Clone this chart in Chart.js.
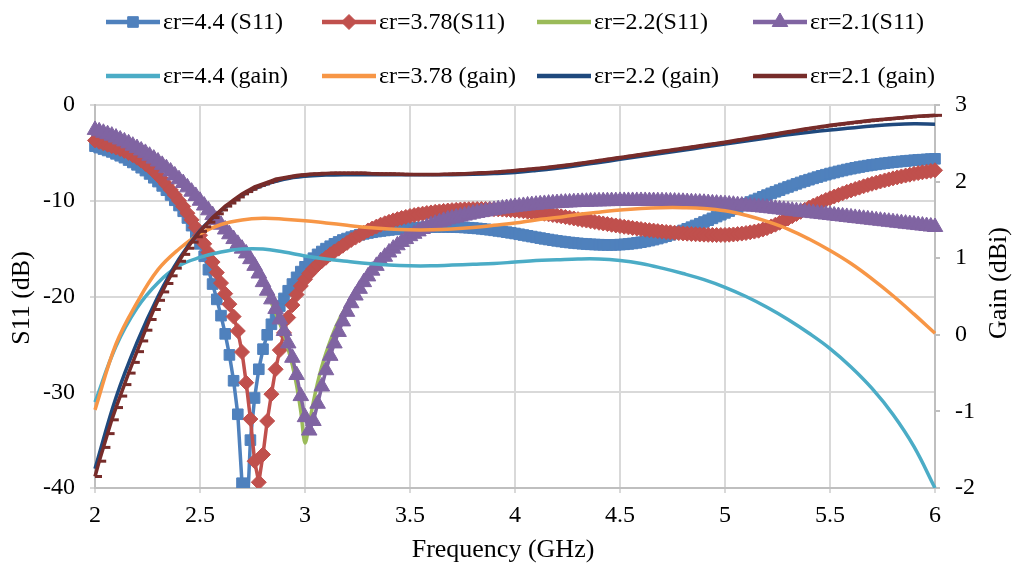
<!DOCTYPE html>
<html lang="en">
<head>
    <meta charset="UTF-8">
    <title>S11 and Gain vs Frequency</title>
    <script src="https://cdn.jsdelivr.net/npm/chart.js"></script>
    <style>
        html, body { margin: 0; padding: 0; background: #fff; }
    </style>
</head>
<body>
    <canvas id="chart" width="1012" height="565"></canvas>

    <script>
        // frequency sweep (GHz), fine grid used by the marker series
        const freqFine = [
            2.00, 2.02, 2.04, 2.06, 2.08, 2.10, 2.12, 2.14, 2.16, 2.18,
            2.20, 2.22, 2.24, 2.26, 2.28, 2.30, 2.32, 2.34, 2.36, 2.38,
            2.40, 2.42, 2.44, 2.46, 2.48, 2.50, 2.52, 2.54, 2.56, 2.58,
            2.60, 2.62, 2.64, 2.66, 2.68, 2.70, 2.72, 2.74, 2.76, 2.78,
            2.80, 2.82, 2.84, 2.86, 2.88, 2.90, 2.92, 2.94, 2.96, 2.98,
            3.00, 3.02, 3.04, 3.06, 3.08, 3.10, 3.12, 3.14, 3.16, 3.18,
            3.20, 3.22, 3.24, 3.26, 3.28, 3.30, 3.32, 3.34, 3.36, 3.38,
            3.40, 3.42, 3.44, 3.46, 3.48, 3.50, 3.52, 3.54, 3.56, 3.58,
            3.60, 3.62, 3.64, 3.66, 3.68, 3.70, 3.72, 3.74, 3.76, 3.78,
            3.80, 3.82, 3.84, 3.86, 3.88, 3.90, 3.92, 3.94, 3.96, 3.98,
            4.00, 4.02, 4.04, 4.06, 4.08, 4.10, 4.12, 4.14, 4.16, 4.18,
            4.20, 4.22, 4.24, 4.26, 4.28, 4.30, 4.32, 4.34, 4.36, 4.38,
            4.40, 4.42, 4.44, 4.46, 4.48, 4.50, 4.52, 4.54, 4.56, 4.58,
            4.60, 4.62, 4.64, 4.66, 4.68, 4.70, 4.72, 4.74, 4.76, 4.78,
            4.80, 4.82, 4.84, 4.86, 4.88, 4.90, 4.92, 4.94, 4.96, 4.98,
            5.00, 5.02, 5.04, 5.06, 5.08, 5.10, 5.12, 5.14, 5.16, 5.18,
            5.20, 5.22, 5.24, 5.26, 5.28, 5.30, 5.32, 5.34, 5.36, 5.38,
            5.40, 5.42, 5.44, 5.46, 5.48, 5.50, 5.52, 5.54, 5.56, 5.58,
            5.60, 5.62, 5.64, 5.66, 5.68, 5.70, 5.72, 5.74, 5.76, 5.78,
            5.80, 5.82, 5.84, 5.86, 5.88, 5.90, 5.92, 5.94, 5.96, 5.98,
            6.00
        ];

        // coarse grid for the smooth gain curves
        const freqCoarse = [
            2.0, 2.1, 2.2, 2.3, 2.4, 2.5, 2.6, 2.7, 2.8, 2.9,
            3.0, 3.1, 3.2, 3.3, 3.4, 3.5, 3.6, 3.7, 3.8, 3.9,
            4.0, 4.1, 4.2, 4.3, 4.4, 4.5, 4.6, 4.7, 4.8, 4.9,
            5.0, 5.1, 5.2, 5.3, 5.4, 5.5, 5.6, 5.7, 5.8, 5.9,
            6.0
        ];

        // grid for the er=2.2 S11 line (denser around its dip)
        const freqGreen = [
            2.0, 2.1, 2.2, 2.3, 2.4, 2.5, 2.6, 2.7, 2.8, 2.85,
            2.9, 2.92, 2.94, 2.96, 2.98, 3.0, 3.02, 3.04, 3.06, 3.08,
            3.1, 3.15, 3.2, 3.3, 3.4, 3.5, 3.6, 3.7, 3.8, 3.9,
            4.0, 4.2, 4.4, 4.6, 4.8, 5.0, 5.2, 5.4, 5.6, 5.8,
            6.0
        ];

        // S11 (dB)
        const s11Er44 = [
            -4.30, -4.45, -4.60, -4.75, -4.90, -5.10, -5.30, -5.50, -5.75, -6.00,
            -6.25, -6.55, -6.85, -7.20, -7.60, -8.00, -8.45, -8.90, -9.40, -9.95,
            -10.5, -11.1, -11.8, -12.6, -13.5, -14.5, -15.8, -17.2, -18.7, -20.3,
            -22.0, -23.9, -26.1, -28.8, -32.3, -39.5, -45.0, -35.0, -30.6, -27.6,
            -25.5, -24.0, -22.9, -21.9, -21.0, -20.2, -19.4, -18.7, -18.0, -17.4,
            -16.9, -16.4, -16.0, -15.6, -15.3, -15.0, -14.75, -14.5, -14.3, -14.1,
            -13.95, -13.8, -13.68, -13.56, -13.46, -13.37, -13.29, -13.22, -13.16, -13.1,
            -13.05, -13.0, -12.96, -12.92, -12.88, -12.85, -12.82, -12.8, -12.78, -12.76,
            -12.75, -12.74, -12.73, -12.73, -12.73, -12.74, -12.75, -12.77, -12.79, -12.82,
            -12.85, -12.89, -12.93, -12.98, -13.03, -13.09, -13.15, -13.21, -13.28, -13.35,
            -13.42, -13.5, -13.58, -13.66, -13.74, -13.82, -13.9, -13.98, -14.05, -14.12,
            -14.19, -14.25, -14.31, -14.36, -14.41, -14.45, -14.49, -14.52, -14.55, -14.57,
            -14.59, -14.6, -14.61, -14.61, -14.6, -14.58, -14.55, -14.51, -14.46, -14.4,
            -14.33, -14.25, -14.16, -14.06, -13.95, -13.83, -13.7, -13.56, -13.41, -13.26,
            -13.1, -12.93, -12.76, -12.58, -12.4, -12.22, -12.03, -11.84, -11.65, -11.46,
            -11.27, -11.08, -10.89, -10.7, -10.51, -10.32, -10.13, -9.95, -9.77, -9.59,
            -9.41, -9.23, -9.06, -8.89, -8.72, -8.56, -8.4, -8.24, -8.09, -7.94,
            -7.8, -7.66, -7.53, -7.4, -7.28, -7.16, -7.05, -6.94, -6.84, -6.74,
            -6.65, -6.56, -6.48, -6.4, -6.33, -6.26, -6.2, -6.14, -6.08, -6.03,
            -5.98, -5.93, -5.89, -5.85, -5.81, -5.77, -5.74, -5.71, -5.68, -5.65,
            -5.62
        ];
        const s11Er378 = [
            -3.7, -3.85, -4.0, -4.15, -4.3, -4.45, -4.6, -4.8, -5.0, -5.25,
            -5.5, -5.8, -6.15, -6.5, -6.9, -7.35, -7.8, -8.3, -8.85, -9.4,
            -10.0, -10.6, -11.3, -12.0, -12.8, -13.6, -14.5, -15.4, -16.4, -17.5,
            -18.6, -19.7, -20.8, -22.1, -23.6, -25.8, -29.0, -32.8, -37.2, -39.4,
            -36.5, -33.0, -30.2, -27.6, -25.6, -23.8, -22.2, -20.9, -19.8, -18.9,
            -18.2, -17.6, -17.1, -16.7, -16.3, -15.95, -15.6, -15.3, -15.0, -14.7,
            -14.4, -14.1, -13.85, -13.6, -13.35, -13.1, -12.9, -12.7, -12.5, -12.35,
            -12.2, -12.05, -11.92, -11.8, -11.69, -11.59, -11.5, -11.42, -11.35, -11.28,
            -11.22, -11.16, -11.11, -11.06, -11.02, -10.98, -10.95, -10.92, -10.9, -10.88,
            -10.87, -10.86, -10.86, -10.86, -10.87, -10.88, -10.9, -10.92, -10.95, -10.98,
            -11.01, -11.05, -11.09, -11.14, -11.19, -11.24, -11.3, -11.36, -11.42, -11.49,
            -11.56, -11.63, -11.7, -11.77, -11.85, -11.92, -12.0, -12.07, -12.15, -12.22,
            -12.3, -12.37, -12.44, -12.51, -12.58, -12.65, -12.72, -12.78, -12.84, -12.9,
            -12.96, -13.02, -13.07, -13.12, -13.17, -13.22, -13.26, -13.3, -13.34, -13.38,
            -13.41, -13.44, -13.47, -13.5, -13.52, -13.54, -13.56, -13.57, -13.58, -13.58,
            -13.57, -13.55, -13.52, -13.48, -13.43, -13.37, -13.3, -13.22, -13.13, -13.01,
            -12.86, -12.68, -12.5, -12.3, -12.08, -11.85, -11.62, -11.39, -11.16, -10.94,
            -10.72, -10.51, -10.31, -10.11, -9.92, -9.74, -9.56, -9.39, -9.23, -9.07,
            -8.92, -8.77, -8.63, -8.49, -8.36, -8.23, -8.11, -7.99, -7.88, -7.77,
            -7.66, -7.56, -7.46, -7.37, -7.28, -7.19, -7.11, -7.03, -6.96, -6.89,
            -6.82
        ];
        const s11Er22 = [
            -2.6, -3.4, -4.5, -5.9, -7.75, -10.0, -12.5, -15.0, -18.5, -21.2,
            -24.0, -25.5, -27.2, -29.3, -32.0, -35.3, -33.3, -31.0, -29.0, -27.3,
            -25.9, -23.0, -20.9, -17.7, -15.3, -13.7, -12.55, -11.85, -11.35, -10.96,
            -10.64, -10.24, -10.06, -10.02, -10.11, -10.36, -10.74, -11.24, -11.74, -12.24,
            -12.74
        ];
        const s11Er21 = [
            -2.6, -2.75, -2.9, -3.05, -3.2, -3.4, -3.6, -3.8, -4.0, -4.25,
            -4.5, -4.75, -5.0, -5.3, -5.6, -5.9, -6.25, -6.6, -6.95, -7.35,
            -7.75, -8.15, -8.6, -9.05, -9.5, -10.0, -10.5, -11.0, -11.5, -12.0,
            -12.5, -13.0, -13.5, -14.0, -14.5, -15.0, -15.5, -16.1, -16.8, -17.6,
            -18.5, -19.4, -20.3, -21.3, -22.4, -23.6, -24.9, -26.4, -28.2, -30.4,
            -32.6, -34.0, -33.0, -31.2, -29.4, -27.7, -26.2, -24.9, -23.7, -22.6,
            -21.6, -20.7, -19.9, -19.2, -18.5, -17.9, -17.3, -16.8, -16.3, -15.85,
            -15.4, -15.0, -14.65, -14.3, -14.0, -13.7, -13.45, -13.2, -12.95, -12.75,
            -12.55, -12.4, -12.25, -12.1, -11.95, -11.85, -11.75, -11.65, -11.55, -11.45,
            -11.35, -11.27, -11.19, -11.11, -11.03, -10.96, -10.89, -10.82, -10.76, -10.7,
            -10.64, -10.59, -10.54, -10.49, -10.45, -10.41, -10.37, -10.33, -10.3, -10.27,
            -10.24, -10.21, -10.19, -10.17, -10.15, -10.13, -10.11, -10.1, -10.08, -10.07,
            -10.06, -10.05, -10.04, -10.03, -10.03, -10.02, -10.02, -10.02, -10.02, -10.02,
            -10.02, -10.02, -10.03, -10.03, -10.04, -10.05, -10.06, -10.07, -10.08, -10.1,
            -10.11, -10.13, -10.15, -10.17, -10.19, -10.21, -10.24, -10.27, -10.3, -10.33,
            -10.36, -10.39, -10.42, -10.46, -10.5, -10.54, -10.58, -10.62, -10.66, -10.7,
            -10.74, -10.79, -10.84, -10.89, -10.94, -10.99, -11.04, -11.09, -11.14, -11.19,
            -11.24, -11.29, -11.34, -11.39, -11.44, -11.49, -11.54, -11.59, -11.64, -11.69,
            -11.74, -11.79, -11.84, -11.89, -11.94, -11.99, -12.04, -12.09, -12.14, -12.19,
            -12.24, -12.29, -12.34, -12.39, -12.44, -12.49, -12.54, -12.59, -12.64, -12.69,
            -12.74
        ];

        // Gain (dBi)
        const gainEr44 = [
            -0.88, -0.15, 0.35, 0.68, 0.9, 1.01, 1.08, 1.12, 1.12, 1.08,
            1.03, 0.99, 0.96, 0.93, 0.91, 0.9, 0.9, 0.91, 0.92, 0.93,
            0.95, 0.97, 0.98, 0.99, 0.99, 0.97, 0.93, 0.87, 0.8, 0.72,
            0.62, 0.5, 0.36, 0.2, 0.02, -0.18, -0.42, -0.7, -1.04, -1.46,
            -2.0
        ];
        const gainEr378 = [
            -0.98, -0.12, 0.42, 0.85, 1.12, 1.32, 1.44, 1.5, 1.52, 1.51,
            1.49, 1.46, 1.43, 1.4, 1.38, 1.37, 1.37, 1.38, 1.4, 1.43,
            1.46, 1.5, 1.53, 1.57, 1.6, 1.63, 1.65, 1.66, 1.66, 1.65,
            1.62, 1.56, 1.48, 1.38, 1.25, 1.1, 0.93, 0.73, 0.51, 0.27,
            0.02
        ];
        const gainEr22 = [
            -1.75, -0.82, -0.1, 0.5, 0.99, 1.36, 1.62, 1.82, 1.95, 2.03,
            2.07, 2.085, 2.09, 2.09, 2.09, 2.09, 2.09, 2.09, 2.095, 2.105,
            2.12, 2.145, 2.175, 2.21, 2.25, 2.29, 2.33, 2.37, 2.41, 2.45,
            2.49, 2.53, 2.57, 2.61, 2.645, 2.675, 2.7, 2.725, 2.745, 2.755,
            2.75
        ];
        const gainEr21 = [
            -1.85, -1.65, -1.47, -1.29, -1.11, -0.95, -0.8, -0.65, -0.5, -0.36,
            -0.22, -0.08, 0.06, 0.2, 0.33, 0.45, 0.56, 0.67, 0.77, 0.87,
            0.96, 1.05, 1.13, 1.21, 1.28, 1.35, 1.41, 1.47, 1.53, 1.58,
            1.63, 1.68, 1.72, 1.76, 1.8, 1.84, 1.87, 1.9, 1.93, 1.95,
            1.97, 1.99, 2.01, 2.03, 2.04, 2.05, 2.06, 2.07, 2.08, 2.085,
            2.09, 2.095, 2.1, 2.1, 2.105, 2.105, 2.11, 2.11, 2.11, 2.11,
            2.11, 2.11, 2.11, 2.11, 2.108, 2.106, 2.104, 2.102, 2.1, 2.1,
            2.1, 2.098, 2.096, 2.095, 2.094, 2.093, 2.092, 2.092, 2.092, 2.092,
            2.092, 2.093, 2.094, 2.095, 2.096, 2.098, 2.1, 2.102, 2.104, 2.106,
            2.108, 2.111, 2.114, 2.117, 2.12, 2.123, 2.127, 2.131, 2.135, 2.14,
            2.145, 2.15, 2.155, 2.16, 2.165, 2.17, 2.176, 2.182, 2.188, 2.194,
            2.2, 2.207, 2.214, 2.221, 2.228, 2.235, 2.243, 2.251, 2.259, 2.267,
            2.275, 2.283, 2.291, 2.299, 2.307, 2.315, 2.323, 2.331, 2.339, 2.347,
            2.355, 2.363, 2.371, 2.379, 2.387, 2.395, 2.403, 2.411, 2.419, 2.427,
            2.435, 2.443, 2.451, 2.459, 2.467, 2.475, 2.483, 2.491, 2.499, 2.507,
            2.515, 2.524, 2.533, 2.542, 2.551, 2.56, 2.569, 2.578, 2.587, 2.596,
            2.605, 2.614, 2.623, 2.632, 2.641, 2.65, 2.659, 2.668, 2.677, 2.686,
            2.695, 2.703, 2.711, 2.719, 2.727, 2.735, 2.742, 2.749, 2.756, 2.763,
            2.77, 2.776, 2.782, 2.788, 2.794, 2.8, 2.805, 2.81, 2.815, 2.82,
            2.825, 2.83, 2.835, 2.84, 2.845, 2.85, 2.853, 2.856, 2.859, 2.862,
            2.865
        ];

        const FONT = '"Liberation Serif", "Times New Roman", serif';
        const GRID = '#D9D9D9';
        const AXIS = '#BFBFBF';

        // legend placement (Excel style 4 x 2 grid)
        const legendX = [106, 322, 537, 753];
        const legendY = [22, 76];

        function pts(xs, ys) {
            return xs.map((x, i) => ({ x: x, y: ys[i] }));
        }

        function markerSeries(label, xs, ys, color, style, radius, order) {
            return {
                label: label,
                data: pts(xs, ys),
                yAxisID: 'y',
                borderColor: color,
                backgroundColor: color,
                borderWidth: 3.5,
                pointStyle: style,
                pointRadius: radius,
                pointBorderWidth: 1,
                pointBorderColor: color,
                pointBackgroundColor: color,
                tension: 0,
                order: order,
                clip: { left: 9, right: 9, top: 9, bottom: 0 }
            };
        }

        function lineSeries(label, xs, ys, color, axis, order, smooth) {
            const ds = {
                label: label,
                data: pts(xs, ys),
                yAxisID: axis,
                borderColor: color,
                backgroundColor: color,
                borderWidth: 3.5,
                pointRadius: 0,
                order: order,
                clip: { left: 8, right: 8, top: 8, bottom: 0 }
            };
            if (smooth === 'monotone') ds.cubicInterpolationMode = 'monotone';
            else ds.tension = 0.4;
            return ds;
        }

        const datasets = [
            markerSeries('εr=4.4 (S11)', freqFine, s11Er44, '#4F81BD', 'rect', 7.5, 8),
            markerSeries('εr=3.78(S11)', freqFine, s11Er378, '#C0504D', 'rectRot', 7.5, 7),
            lineSeries('εr=2.2(S11)', freqGreen, s11Er22, '#9BBB59', 'y', 6, 'monotone'),
            markerSeries('εr=2.1(S11)', freqFine, s11Er21, '#8064A2', 'triangle', 9, 5),
            lineSeries('εr=4.4 (gain)', freqCoarse, gainEr44, '#4BACC6', 'y2', 4),
            lineSeries('εr=3.78 (gain)', freqCoarse, gainEr378, '#F79646', 'y2', 3),
            lineSeries('εr=2.2 (gain)', freqCoarse, gainEr22, '#1F497D', 'y2', 2),
            {
                label: 'εr=2.1 (gain)',
                data: pts(freqFine, gainEr21),
                yAxisID: 'y2',
                borderColor: '#772C2A',
                backgroundColor: '#772C2A',
                borderWidth: 3.5,
                pointStyle: 'dash',
                pointRadius: 7,
                pointBorderWidth: 3,
                pointBorderColor: '#772C2A',
                tension: 0,
                order: 1,
                clip: { left: 8, right: 8, top: 8, bottom: 0 }
            }
        ];

        // draws the grid legend and the three axis titles
        const decorations = {
            id: 'decorations',
            afterDraw(chart) {
                const ctx = chart.ctx;
                ctx.save();
                ctx.font = '24px ' + FONT;
                ctx.textBaseline = 'middle';
                ctx.textAlign = 'left';
                chart.data.datasets.forEach((ds, i) => {
                    const x = legendX[i % 4];
                    const y = legendY[Math.floor(i / 4)];
                    ctx.strokeStyle = ds.borderColor;
                    ctx.lineWidth = 4.5;
                    ctx.beginPath();
                    ctx.moveTo(x, y);
                    ctx.lineTo(x + 54, y);
                    ctx.stroke();
                    if (ds.pointRadius > 0) {
                        ctx.fillStyle = ds.borderColor;
                        ctx.lineWidth = ds.pointBorderWidth;
                        Chart.helpers.drawPoint(ctx, {
                            pointStyle: ds.pointStyle,
                            radius: ds.pointStyle === 'dash' ? 4 : ds.pointRadius,
                            borderWidth: ds.pointBorderWidth,
                            rotation: 0
                        }, ds.pointStyle === 'dash' ? x + 25 : x + 27, y);
                    }
                    ctx.fillStyle = '#000';
                    ctx.fillText(ds.label, x + 57, y + 1);
                });

                ctx.font = '26px ' + FONT;
                ctx.textAlign = 'center';
                ctx.fillText('Frequency (GHz)', 503, 550);

                ctx.translate(22, 298);
                ctx.rotate(-Math.PI / 2);
                ctx.fillText('S11 (dB)', 0, 0);
                ctx.restore();

                ctx.save();
                ctx.font = '26px ' + FONT;
                ctx.fillStyle = '#000';
                ctx.textAlign = 'center';
                ctx.textBaseline = 'middle';
                ctx.translate(999, 283);
                ctx.rotate(-Math.PI / 2);
                ctx.fillText('Gain (dBi)', 0, 0);
                ctx.restore();
            }
        };

        const tickFont = { family: FONT, size: 24 };

        new Chart(document.getElementById('chart'), {
            type: 'line',
            data: { datasets: datasets },
            options: {
                responsive: false,
                animation: false,
                layout: { padding: { top: 105, left: 0, right: 0, bottom: 0 } },
                plugins: {
                    legend: { display: false },
                    tooltip: { enabled: false }
                },
                scales: {
                    x: {
                        type: 'linear',
                        min: 2,
                        max: 6,
                        ticks: {
                            stepSize: 0.5, color: '#000', font: tickFont, padding: 8, maxRotation: 0,
                            callback: v => String(Math.round(v * 10) / 10)
                        },
                        grid: { color: GRID, lineWidth: 2, tickLength: 5 },
                        border: { color: AXIS, width: 2 },
                        afterFit: scale => { scale.height = 77; }
                    },
                    y: {
                        position: 'left',
                        min: -40,
                        max: 0,
                        ticks: { stepSize: 10, color: '#000', font: tickFont, padding: 15 },
                        grid: { color: GRID, lineWidth: 2, tickLength: 5 },
                        border: { color: AXIS, width: 2 },
                        afterFit: scale => { scale.width = 95; }
                    },
                    y2: {
                        position: 'right',
                        min: -2,
                        max: 3,
                        ticks: { stepSize: 1, color: '#000', font: tickFont, padding: 15 },
                        grid: { drawOnChartArea: false, color: AXIS, lineWidth: 2, tickLength: 5 },
                        border: { color: AXIS, width: 2 },
                        afterFit: scale => { scale.width = 77; }
                    }
                }
            },
            plugins: [decorations]
        });
    </script>
</body>
</html>
